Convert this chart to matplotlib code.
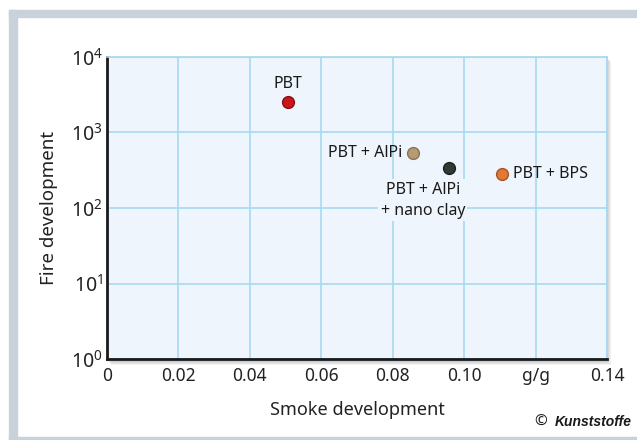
import numpy as np
import matplotlib.pyplot as plt
from matplotlib.patches import Rectangle
from matplotlib.ticker import FixedLocator, FixedFormatter

plt.rcParams['font.family'] = ['Noto Sans', 'DejaVu Sans']
plt.rcParams['mathtext.fontset'] = 'custom'
plt.rcParams['mathtext.rm'] = 'Noto Sans'

# Data
names = ["PBT", "PBT + AlPi", "PBT + AlPi\n+ nano clay", "PBT + BPS"]
smoke = [0.0507, 0.0857, 0.0958, 0.1106]
fire = [2530, 535, 340, 282]
point_colors = ["#c8161d", "#b59a72", "#2f3a33", "#e07a35"]
edge_colors = ["#8a0e12", "#8a7352", "#1a201c", "#a8531f"]

x_ticks = [0, 0.02, 0.04, 0.06, 0.08, 0.10, 0.12, 0.14]
x_labels = ["0", "0.02", "0.04", "0.06", "0.08", "0.10", "g/g", "0.14"]
y_ticks = [1, 10, 100, 1000, 10000]
y_labels = [r"$\mathregular{10^{%d}}$" % i for i in range(5)]

W, H = 637, 440
fig = plt.figure(figsize=(W / 100, H / 100), dpi=100)
fig.patch.set_facecolor("white")

# grey frame around the figure
frame = "#c9d2da"
fig.patches.append(Rectangle((9 / W, 0), 8 / W, 1 - 10 / H, transform=fig.transFigure, color=frame, zorder=0))
fig.patches.append(Rectangle((9 / W, 1 - 17 / H), 1, 7 / H, transform=fig.transFigure, color=frame, zorder=0))
fig.patches.append(Rectangle((9 / W, 0), 1, 3 / H, transform=fig.transFigure, color=frame, zorder=0))

# axes box in pixels
left, top, right, bottom = 107, 57, 607, 359
ax = fig.add_axes([left / W, 1 - bottom / H, (right - left) / W, (bottom - top) / H])
ax.set_zorder(2)

# soft drop shadow behind the axes
for k in range(6):
    off = 1 + k
    fig.patches.append(Rectangle(((left - 2 + off) / W, 1 - (bottom + off) / H),
                                 (right - left) / W, (bottom - top + 2) / H,
                                 transform=fig.transFigure, color="black",
                                 alpha=0.05, zorder=0.5, lw=0))

ax.set_facecolor("#eef5fc")
ax.set_xlim(0, 0.14)
ax.set_yscale("log")
ax.set_ylim(1, 10000)
ax.xaxis.set_major_locator(FixedLocator(x_ticks))
ax.xaxis.set_major_formatter(FixedFormatter(x_labels))
ax.yaxis.set_major_locator(FixedLocator(y_ticks))
ax.yaxis.set_major_formatter(FixedFormatter(y_labels))
ax.yaxis.set_minor_locator(FixedLocator([]))
ax.tick_params(length=0, labelsize=12.5, colors="#222222")
ax.tick_params(axis="x", pad=6)
ax.tick_params(axis="y", labelsize=14, pad=3)
ax.grid(True, color="#a8daf0", lw=1.2)
ax.set_axisbelow(True)

for s in ["left", "bottom"]:
    ax.spines[s].set_color("#1a1a1a")
    ax.spines[s].set_linewidth(2)
for s in ["top", "right"]:
    ax.spines[s].set_color("#a8daf0")
    ax.spines[s].set_linewidth(1.2)

ax.set_xlabel("Smoke development", fontsize=13, color="#222222", labelpad=11)
ax.set_ylabel("Fire development", fontsize=13.5, color="#222222", labelpad=9)

for x, y, c, ec in zip(smoke, fire, point_colors, edge_colors):
    ax.plot(x, y, "o", ms=8.5, mfc=c, mec=ec, mew=1, zorder=5)

txt = dict(fontsize=11.5, color="#1a1a1a", zorder=6)
ax.annotate(names[0], (smoke[0], fire[0]), xytext=(0, 7), textcoords="offset points",
            ha="center", va="bottom", **txt)
ax.annotate(names[1], (smoke[1], fire[1]), xytext=(-8, 0), textcoords="offset points",
            ha="right", va="center", **txt)
ax.annotate(names[2], (smoke[2], fire[2]), xytext=(-19, -10), textcoords="offset points",
            ha="center", va="top", linespacing=1.4,
            bbox=dict(boxstyle="square,pad=0.15", fc="#eef5fc", ec="none"), **txt)
ax.annotate(names[3], (smoke[3], fire[3]), xytext=(8, 0), textcoords="offset points",
            ha="left", va="center", **txt)

fig.text(632 / W, 1 - 422 / H, "Kunststoffe", ha="right", va="center",
         fontsize=10, fontweight="bold", fontstyle="italic", color="#1a1a1a",
         family=["Liberation Sans", "DejaVu Sans"])
fig.text(547 / W, 1 - 422 / H, "©", ha="right", va="center", fontsize=11, color="#1a1a1a")

fig.savefig("out.png", dpi=100)
